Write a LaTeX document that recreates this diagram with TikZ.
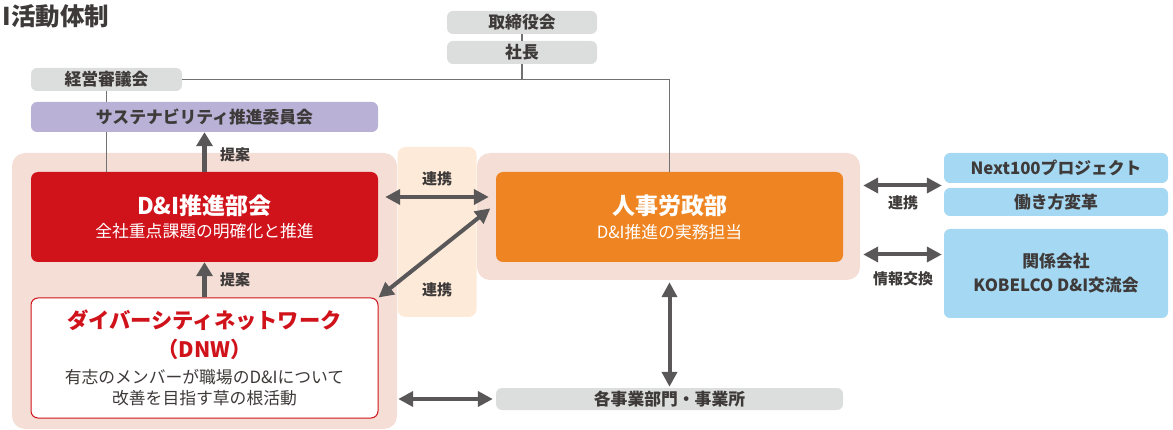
\documentclass[tikz,border=0pt]{standalone}
\usepackage{fontspec}
\setmainfont{Noto Sans CJK JP}
\usetikzlibrary{arrows.meta,calc}
\definecolor{boxgray}{RGB}{220,221,221}
\definecolor{sustpurple}{RGB}{185,177,214}
\definecolor{dnired}{RGB}{208,18,27}
\definecolor{jinjiorange}{RGB}{238,132,34}
\definecolor{zonepink}{RGB}{245,222,214}
\definecolor{linkpeach}{RGB}{253,234,217}
\definecolor{extblue}{RGB}{165,216,242}
\definecolor{arrowgray}{RGB}{89,87,87}
\definecolor{textdark}{RGB}{62,58,57}
\definecolor{linegray}{RGB}{114,113,113}

\begin{document}
\begin{tikzpicture}[x=1pt,y=-1pt,
  graybox/.style={fill=boxgray,rounded corners=6pt,inner sep=0pt,text=textdark,font=\fontsize{16.8}{19}\selectfont\bfseries},
  bluebox/.style={fill=extblue,rounded corners=6pt,inner sep=0pt,text=textdark,align=center,font=\fontsize{16.8}{24}\selectfont\bfseries},
  zone/.style={fill=zonepink,rounded corners=13pt,inner sep=0pt},
  twoway/.style={{Triangle[length=15pt,width=15pt]}-{Triangle[length=15pt,width=15pt]},line width=4pt,draw=arrowgray},
  oneway/.style={-{Triangle[length=14pt,width=16pt]},line width=4.5pt,draw=arrowgray},
  tag/.style={text=textdark,font=\fontsize{15}{17}\selectfont\bfseries},
  orgline/.style={draw=linegray,line width=1.3pt}]
\useasboundingbox (0,0) rectangle (1173,430);

% background zones
\node[zone,minimum width=385pt,minimum height=276pt] (leftzone) at (204.5,291) {};
\node[fill=linkpeach,rounded corners=8pt,minimum width=79pt,minimum height=170pt] (linkcol) at (437,232) {};
\node[zone,minimum width=383pt,minimum height=127pt] (rightzone) at (668.5,216.5) {};

\node[anchor=west,text=textdark,font=\fontsize{24.5}{26}\selectfont\bfseries] (title) at (-1,16) {I活動体制};

% top of the organisation
\node[graybox,minimum width=150pt,minimum height=23pt] (board) at (522,22.5) {取締役会};
\node[graybox,minimum width=150pt,minimum height=23pt] (president) at (522,52.5) {社長};
\node[graybox,minimum width=151pt,minimum height=23pt] (council) at (106.5,79.5) {経営審議会};
\node[graybox,fill=sustpurple,minimum width=347pt,minimum height=30pt] (sustain) at (204.5,117) {サステナビリティ推進委員会};

% main bodies
\node[fill=dnired,rounded corners=7pt,minimum width=347pt,minimum height=90pt,text=white,align=center,font=\fontsize{16.8}{23}\selectfont] (dni) at (204.5,217)
  {{\fontsize{23}{23}\selectfont\bfseries D\&I推進部会}\\全社重点課題の明確化と推進};
\node[fill=white,draw=dnired,line width=1pt,rounded corners=7pt,minimum width=347pt,minimum height=120pt,text=textdark,align=center,font=\fontsize{16.8}{21}\selectfont] (dnw) at (204.5,358)
  {{\fontsize{21.3}{30}\selectfont\bfseries\color{dnired}ダイバーシティネットワーク}\\[8pt]{\fontsize{21.3}{27}\selectfont\bfseries\color{dnired}（DNW）}\\[5pt]有志のメンバーが職場のD\&Iについて\\改善を目指す草の根活動};
\node[fill=jinjiorange,rounded corners=7pt,minimum width=347pt,minimum height=90pt,text=white,align=center,font=\fontsize{16.8}{24}\selectfont] (jinji) at (669.5,217)
  {{\fontsize{23}{24}\selectfont\bfseries 人事労政部}\\D\&I推進の実務担当};
\node[graybox,minimum width=347pt,minimum height=22pt] (kaku) at (669.5,399) {各事業部門・事業所};

% partners on the right
\node[bluebox,minimum width=224pt,minimum height=30pt] (next) at (1056,168) {Next100プロジェクト};
\node[bluebox,minimum width=224pt,minimum height=28pt] (work) at (1056,202) {働き方変革};
\node[bluebox,minimum width=224pt,minimum height=89pt] (kankei) at (1056,273.5) {関係会社\\KOBELCO D\&I交流会};
\coordinate (seam) at ($(next.south west)!0.5!(work.north west)$);

% reporting lines
\draw[orgline] (board.south) -- (president.north);
\draw[orgline] (president.south) -- (president.south |- council.east);
\draw[orgline] (council.east) -- (council.east -| jinji.north) -- (jinji.north);
\draw[orgline] (council.south) -- (council.south |- sustain.north);
\draw[orgline] (council.south |- sustain.south) -- (council.south |- dni.north);

% arrows
\draw[oneway] (dni.north) -- (sustain.south);
\draw[oneway] (dnw.north) -- (dni.south);
\draw[twoway,shorten <=7pt,shorten >=7pt] ([yshift=20pt]dni.east) -- ([yshift=20pt]jinji.west);
\draw[twoway,shorten >=7pt] (dnw.north east) -- ([yshift=13pt]jinji.west);
\draw[twoway,shorten <=2pt,shorten >=1pt] (jinji.south |- rightzone.south) -- (kaku.north);
\draw[twoway,shorten <=1pt,shorten >=3pt] (leftzone.east |- kaku.west) -- (kaku.west);
\draw[twoway,shorten <=3pt,shorten >=2pt] (rightzone.east |- seam) -- (seam);
\draw[twoway,shorten <=3pt,shorten >=2pt] (rightzone.east |- 0,254.5) -- (kankei.west |- 0,254.5);

\node[tag] (propose1) at (235,155) {提案};
\node[tag] (propose2) at (235,280) {提案};
\node[tag] (link1) at (437,179) {連携};
\node[tag] (link2) at (437,290) {連携};
\node[tag] (link3) at (903,203) {連携};
\node[tag] (infoex) at (903,279) {情報交換};
\end{tikzpicture}
\end{document}
